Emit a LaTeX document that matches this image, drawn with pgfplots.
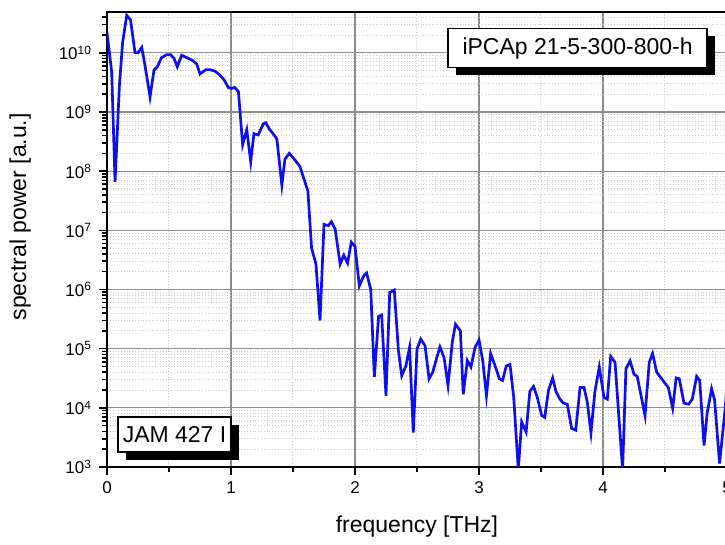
\documentclass[border=0pt]{standalone}
\usepackage{fontspec}
\setmainfont{Liberation Sans}
\usepackage{pgfplots}
\pgfplotsset{compat=1.18}
\usetikzlibrary{shadows}
\definecolor{gridmaj}{RGB}{140,140,140}
\definecolor{gridmin}{RGB}{205,205,205}
\definecolor{lineblue}{RGB}{15,15,235}
\begin{document}
\begin{tikzpicture}[
  boxnode/.style={draw=black, fill=white, line width=0.6pt, inner sep=0pt,
    font=\fontsize{11.5}{14}\selectfont,
    general shadow={fill=black, shadow xshift=3.75pt, shadow yshift=-3.75pt}},
]
\begin{axis}[
  at={(0,0)}, anchor=south west,
  scale only axis, width=310pt, height=227.5pt,
  xmin=0, xmax=5, ymode=log, ymin=1e3, ymax=4.9e10,
  xtick={0,1,2,3,4,5}, minor xtick={0.5,1.5,2.5,3.5,4.5},
  ytick={1e3,1e4,1e5,1e6,1e7,1e8,1e9,1e10},
  yticklabels={10\textsuperscript{3},10\textsuperscript{4},10\textsuperscript{5},10\textsuperscript{6},10\textsuperscript{7},10\textsuperscript{8},10\textsuperscript{9},10\textsuperscript{10}},
  minor ytick={2e3,3e3,4e3,5e3,6e3,7e3,8e3,9e3,
               2e4,3e4,4e4,5e4,6e4,7e4,8e4,9e4,
               2e5,3e5,4e5,5e5,6e5,7e5,8e5,9e5,
               2e6,3e6,4e6,5e6,6e6,7e6,8e6,9e6,
               2e7,3e7,4e7,5e7,6e7,7e7,8e7,9e7,
               2e8,3e8,4e8,5e8,6e8,7e8,8e8,9e8,
               2e9,3e9,4e9,5e9,6e9,7e9,8e9,9e9,
               2e10,3e10,4e10},
  xticklabel style={/pgf/number format/assume math mode=true},
  grid=both,
  major grid style={gridmaj, line width=0.6pt},
  minor grid style={gridmin, densely dotted, line width=0.5pt},
  tick align=outside,
  xtick pos=bottom, ytick pos=left,
  major tick length=4pt, minor tick length=2.3pt,
  every tick/.style={black, line width=0.8pt},
  axis line style={black, line width=0.9pt},
  tick label style={font=\fontsize{8.5}{10}\selectfont},
  label style={font=\fontsize{11.5}{14}\selectfont},
  xlabel={frequency [THz]},
  ylabel={spectral power [a.u.]},
  xlabel style={at={(axis description cs:0.5,-0.13)}, anchor=center},
  ylabel style={at={(axis description cs:-0.14,0.55)}, anchor=center},
]
\addplot[lineblue, line width=1.35pt] coordinates {
(0,2.2e10) (0.038,4.7e9) (0.065,6.6e7) (0.10,2.8e9) (0.126,1.5e10) (0.159,4.3e10)
(0.19,3.6e10) (0.226,1.0e10) (0.25,1.0e10) (0.28,1.23e10) (0.306,6.2e9) (0.347,1.8e9)
(0.379,5.1e9) (0.406,5.8e9) (0.44,8.3e9) (0.481,9.3e9) (0.513,9.3e9) (0.54,8.1e9)
(0.567,5.8e9) (0.602,9.1e9) (0.643,8.3e9) (0.691,7.4e9) (0.723,6.5e9) (0.75,4.4e9)
(0.798,5.2e9) (0.83,5.2e9) (0.871,4.9e9) (0.911,4.2e9) (0.944,3.5e9) (0.978,2.6e9)
(1.005,2.5e9) (1.03,2.6e9) (1.06,2.2e9) (1.094,2.8e8) (1.127,5.0e8) (1.159,1.45e8)
(1.185,4.3e8) (1.22,4.1e8) (1.26,6.3e8) (1.28,6.6e8) (1.31,5.1e8) (1.34,4.3e8)
(1.37,3.5e8) (1.41,5.8e7) (1.435,1.6e8) (1.47,2.0e8) (1.51,1.6e8) (1.556,1.2e8)
(1.62,4.6e7) (1.65,5.0e6) (1.685,2.7e6) (1.718,3.0e5) (1.75,1.26e7) (1.785,1.2e7)
(1.81,1.4e7) (1.84,1.05e7) (1.88,2.7e6) (1.91,3.8e6) (1.94,2.8e6) (1.97,6.3e6)
(2.0,5.4e6) (2.035,1.15e6) (2.07,1.7e6) (2.094,1.9e6) (2.127,1.0e6) (2.156,3.3e4)
(2.19,3.5e5) (2.215,3.7e5) (2.25,1.6e4) (2.28,8.9e5) (2.317,9.8e5) (2.35,9.3e4)
(2.377,3.5e4) (2.41,5.1e4) (2.44,1.05e5) (2.47,3.8e3) (2.50,9.8e4) (2.53,1.45e5)
(2.565,1.12e5) (2.597,3.1e4) (2.627,4.0e4) (2.66,7.1e4) (2.685,1.07e5) (2.718,7.1e4)
(2.75,2.4e4) (2.785,1.3e5) (2.81,2.6e5) (2.85,2.0e5) (2.873,1.7e4) (2.906,6.3e4)
(2.935,4.9e4) (2.968,1.05e5) (3.0,1.4e5) (3.03,6.3e4) (3.06,1.6e4) (3.094,8.3e4)
(3.13,5.1e4) (3.164,3.1e4) (3.19,2.9e4) (3.22,5.1e4) (3.25,5.4e4) (3.28,1.5e4)
(3.317,9.0e2) (3.344,5.8e3) (3.38,3.9e3) (3.41,1.9e4) (3.44,2.3e4) (3.47,1.5e4)
(3.506,7.4e3) (3.53,6.9e3) (3.56,1.95e4) (3.594,3.2e4) (3.62,1.9e4) (3.653,1.4e4)
(3.68,1.2e4) (3.712,1.15e4) (3.747,4.5e3) (3.78,4.2e3) (3.815,2.2e4) (3.847,2.2e4)
(3.873,1.26e4) (3.903,3.8e3) (3.935,1.9e4) (3.97,4.9e4) (4.008,1.5e4) (4.035,1.4e4)
(4.062,7.4e4) (4.097,5.9e4) (4.158,9.0e2) (4.185,4.6e4) (4.218,6.2e4) (4.25,3.7e4)
(4.276,3.4e4) (4.339,7.4e3) (4.373,5.9e4) (4.40,8.3e4) (4.433,4.0e4) (4.473,3.1e4)
(4.527,2.2e4) (4.562,9.8e3) (4.59,3.2e4) (4.615,3.1e4) (4.653,1.2e4) (4.69,1.15e4)
(4.72,1.4e4) (4.755,3.4e4) (4.78,2.9e4) (4.815,2.3e3) (4.84,8.1e3) (4.876,2.1e4)
(4.90,1.35e4) (4.94,1.15e3) (4.984,9.1e3) (5.0,2.4e4)
};
\node[boxnode, minimum width=129.5pt, minimum height=19.5pt] at (rel axis cs:0.759,0.920) {iPCAp 21-5-300-800-h};
\node[boxnode, minimum width=56.5pt, minimum height=17.5pt] at (rel axis cs:0.109,0.0714) {JAM 427 I};
\end{axis}
\pgfresetboundingbox
\path[use as bounding box] (-53.5pt,-39pt) rectangle (309pt,233.5pt);
\end{tikzpicture}
\end{document}
